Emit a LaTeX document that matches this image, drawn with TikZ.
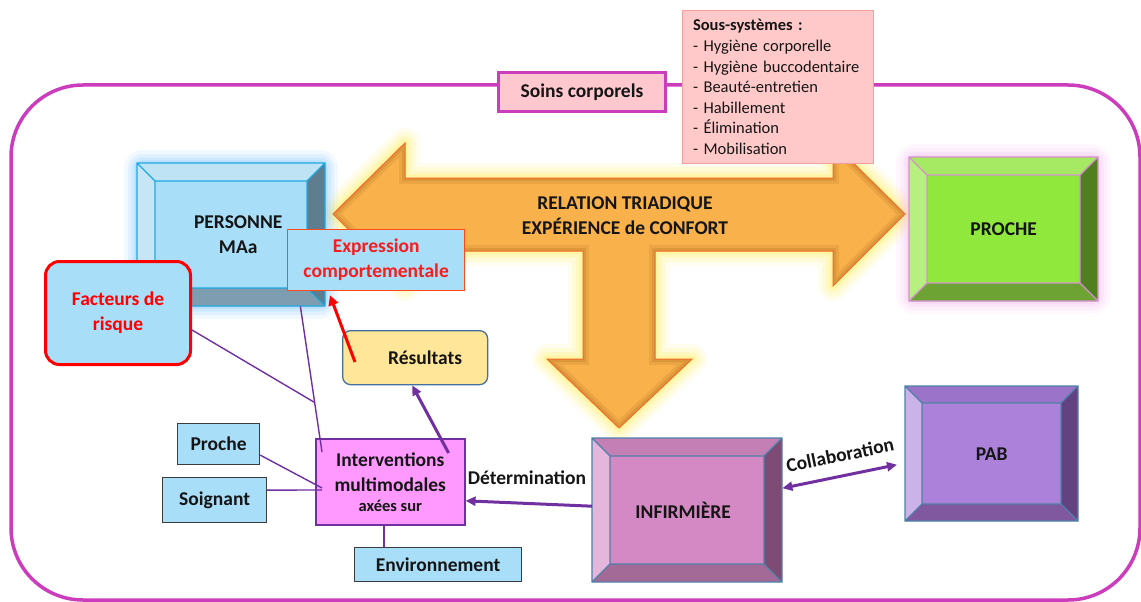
\documentclass[tikz,border=0pt]{standalone}
\usepackage{fontspec}
\setmainfont{Carlito}
\usetikzlibrary{calc,arrows.meta}

% palette
\definecolor{frameMag}{HTML}{CC3DBE}
\definecolor{soinsFill}{HTML}{FFC7CE}
\definecolor{ssFill}{HTML}{FFC9C9}
\definecolor{ssBorder}{HTML}{F4A0A0}
\definecolor{lightBlue}{HTML}{A9DEF9}
\definecolor{purpleLink}{HTML}{7030A0}
\definecolor{arrowOrange}{HTML}{F9B24B}
\definecolor{arrowEdge}{HTML}{F26B2A}
\definecolor{arrowShade}{HTML}{8A4A10}
\definecolor{glowYellow}{HTML}{FFF060}
\definecolor{glowBlue}{HTML}{7CC4FF}
\definecolor{glowPink}{HTML}{F6B8EE}
\definecolor{interFill}{HTML}{FF99FF}
\definecolor{resFill}{HTML}{FFE699}
\definecolor{resBorder}{HTML}{41719C}
\definecolor{redText}{HTML}{F51D1D}
\definecolor{ink}{HTML}{151515}
\definecolor{greyEdge}{HTML}{3C3C3C}
\definecolor{expEdge}{HTML}{FF4A1C}
% bevelled boxes: I inner, T top, L left, R right, B bottom, E edge
\definecolor{perI}{HTML}{A9DEF9}\definecolor{perT}{HTML}{BEE3F5}\definecolor{perL}{HTML}{C6E6F5}
\definecolor{perR}{HTML}{5E7D8E}\definecolor{perB}{HTML}{7E9DB0}\definecolor{perE}{HTML}{1FA9E1}
\definecolor{proI}{HTML}{8FE83B}\definecolor{proT}{HTML}{A6EA63}\definecolor{proL}{HTML}{B7F07E}
\definecolor{proR}{HTML}{4F7F1F}\definecolor{proB}{HTML}{6DA332}\definecolor{proE}{HTML}{D592CF}
\definecolor{infI}{HTML}{D589C4}\definecolor{infT}{HTML}{C47FB5}\definecolor{infL}{HTML}{E4B6DB}
\definecolor{infR}{HTML}{7E4B74}\definecolor{infB}{HTML}{A36A98}\definecolor{infE}{HTML}{4F81A8}
\definecolor{pabI}{HTML}{AC81D9}\definecolor{pabT}{HTML}{9B73C9}\definecolor{pabL}{HTML}{CBB3EA}
\definecolor{pabR}{HTML}{634282}\definecolor{pabB}{HTML}{7F58A0}\definecolor{pabE}{HTML}{4F81A8}

% bevelled frame: x1, y1, x2, y2, depth, colour prefix
\newcommand{\bevelbox}[6]{%
  \fill[#6T] (#1,#2) -- (#3,#2) -- ({#3-#5},{#2+#5}) -- ({#1+#5},{#2+#5}) -- cycle;
  \fill[#6L] (#1,#2) -- ({#1+#5},{#2+#5}) -- ({#1+#5},{#4-#5}) -- (#1,#4) -- cycle;
  \fill[#6R] (#3,#2) -- (#3,#4) -- ({#3-#5},{#4-#5}) -- ({#3-#5},{#2+#5}) -- cycle;
  \fill[#6B] (#1,#4) -- (#3,#4) -- ({#3-#5},{#4-#5}) -- ({#1+#5},{#4-#5}) -- cycle;
  \fill[#6I] ({#1+#5},{#2+#5}) rectangle ({#3-#5},{#4-#5});
  \draw[#6E, line width=1.3pt, line join=miter]
    (#1,#2) rectangle (#3,#4) ({#1+#5},{#2+#5}) rectangle ({#3-#5},{#4-#5})
    (#1,#2) -- ({#1+#5},{#2+#5}) (#3,#2) -- ({#3-#5},{#2+#5})
    (#3,#4) -- ({#3-#5},{#4-#5}) (#1,#4) -- ({#1+#5},{#4-#5});
}
% soft halo round a rectangle: x1, y1, x2, y2, colour
\newcommand{\halo}[5]{%
  \foreach \w/\o in {26/0.10,18/0.14,11/0.18,5/0.25}
    \draw[#5, line width=\w pt, opacity=\o, rounded corners=6pt] (#1,#2) rectangle (#3,#4);
}
% outline of the three-headed arrow
\newcommand{\triarrow}{(333,214) -- (405,143) -- (405,178) -- (833,178) -- (833,143)
  -- (905,214) -- (833,286) -- (833,251) -- (655,251) -- (655,359) -- (692,359)
  -- (619,428) -- (547,359) -- (583,359) -- (583,251) -- (405,251) -- (405,286) -- cycle}

\tikzset{
  lbl/.style={font=\fontsize{19.5}{25}\selectfont\bfseries, align=center, text=ink},
  plain/.style={inner sep=0pt, anchor=north west, align=center},
  link/.style={draw=purpleLink, line width=1.4pt},
  thicklink/.style={draw=purpleLink, line width=3pt, -{Triangle[length=10pt,width=9pt]}},
  bothlink/.style={draw=purpleLink, line width=3pt, {Triangle[length=10pt,width=9pt]}-{Triangle[length=10pt,width=9pt]}},
  redarrow/.style={draw=red, line width=3pt, -{Triangle[length=10pt,width=10pt]}},
}

\begin{document}
\begin{tikzpicture}[x=1pt,y=-1pt]
\useasboundingbox (0,0) rectangle (1141,602);
\fill[white] (0,0) rectangle (1141,602);

% outer frame
\draw[frameMag, line width=3.5pt, rounded corners=72pt] (11,85) rectangle (1140,600);

% halos
\foreach \w/\o in {30/0.10,22/0.14,14/0.2,7/0.3}
  \draw[glowYellow, line width=\w pt, opacity=\o, line join=round] \triarrow;
\halo{137}{163}{325}{306}{glowBlue}
\halo{909}{157}{1098}{301}{glowPink}

% big arrow
\fill[arrowOrange] \triarrow;
\begin{scope}
  \clip \triarrow;
  \draw[arrowShade, line width=12pt, opacity=0.12, line join=miter] \triarrow;
  \draw[arrowShade, line width=6pt, opacity=0.15, line join=miter] \triarrow;
\end{scope}
\draw[arrowEdge, line width=1pt] \triarrow;
\node[lbl] (rel) at (625,216) {RELATION TRIADIQUE\\EXPÉRIENCE de CONFORT};

% bevelled boxes
\bevelbox{137}{163}{325}{306}{18}{per}
\node[lbl, plain, minimum width=188, minimum height=143] (per) at (137,163) {\hspace*{14pt}PERSONNE\\\hspace*{14pt}MAa};
\bevelbox{909}{157}{1098}{301}{18}{pro}
\node[lbl, plain, minimum width=189, minimum height=144] (pro) at (909,157) {PROCHE};
\bevelbox{592}{438}{782}{582}{18}{inf}
\node[lbl, plain, minimum width=190, minimum height=144] (inf) at (592,438) {INFIRMIÈRE\hspace*{8pt}};
\bevelbox{905}{386}{1078}{521}{17}{pab}
\node[lbl, plain, minimum width=173, minimum height=135] (pab) at (905,386) {PAB};

% labelled boxes
\node[lbl, plain, draw=frameMag, line width=3pt, fill=soinsFill, minimum width=167, minimum height=39] (soins) at (497,71) {Soins corporels};
\node[plain, draw=ssBorder, line width=1pt, fill=ssFill, align=left, text width=170pt, inner xsep=10.5pt,
      minimum height=153, font=\fontsize{16.5}{20.6}\selectfont, text=ink] (ss) at (682,10)
  {\textbf{Sous-systèmes :}\\- Hygiène corporelle\\- Hygiène buccodentaire\\- Beauté-entretien\\- Habillement\\- Élimination\\- Mobilisation};
\node[lbl, plain, text=redText, draw=expEdge, line width=1.3pt, fill=lightBlue, minimum width=177, minimum height=61] (exp) at (287,229) {Expression\\comportementale};
\node[lbl, plain, text=red, draw=red, line width=3pt, fill=lightBlue, rounded corners=14pt, minimum width=145, minimum height=103] (fac) at (44,260) {Facteurs de\\risque};
\node[lbl, plain, draw=resBorder, line width=1.3pt, fill=resFill, rounded corners=8pt, minimum width=145, minimum height=54] (res) at (342,330) {\hspace*{20pt}Résultats};
\node[lbl, plain, draw=purpleLink, line width=1.6pt, fill=interFill, minimum width=149, minimum height=86] (int) at (315,438)
  {Interventions\\multimodales\\[-5pt]{\fontsize{16.5}{18}\selectfont axées sur}};
\node[lbl, plain, draw=greyEdge, line width=1.2pt, fill=lightBlue, minimum width=82, minimum height=41] (prc) at (177,423) {Proche};
\node[lbl, plain, draw=greyEdge, line width=1.2pt, fill=lightBlue, minimum width=104, minimum height=45] (soi) at (162,477) {Soignant};
\node[lbl, plain, draw=greyEdge, line width=1.2pt, fill=lightBlue, minimum width=167, minimum height=34] (env) at (354,547) {Environnement};

% thin links into the interventions box
\coordinate (pa) at ($(per.south east)+(-25,0)$);
\coordinate (pb) at ($(int.north west)+(7,14)$);
\coordinate (jn) at ($(pa)!0.66!(pb)$);
\coordinate (e1) at ($(env.north west)+(30,0)$);
\draw[link] (pa) -- (pb);
\draw[link] ($(fac.east)+(0,17)$) -- (jn);
\draw[link] ($(prc.east)+(0,11)$) -- ($(int.north west)+(7,50)$);
\draw[link] ($(soi.east)+(0,-10)$) -- ($(int.north west)+(7,52)$);
\draw[link] (e1) -- (e1 |- int.south);

% arrows
\draw[thicklink] ($(int.north east)+(-17,15)$) -- ($(res.south)+(-3,0)$);
\draw[redarrow] ($(res.north west)+(13,32)$) -- ($(exp.south west)+(43,4)$);
\draw[thicklink] ($(inf.west)+(0,-4)$) -- ($(int.east)+(0,19)$);
\node[lbl] (det) at (527,478) {Détermination};
\draw[bothlink] ($(inf.east)+(0,-22)$) -- ($(pab.west)+(-8,11)$);
\node[lbl, rotate=11.5, inner sep=1pt] (col) at (840,455) {Collaboration};
\end{tikzpicture}
\end{document}
